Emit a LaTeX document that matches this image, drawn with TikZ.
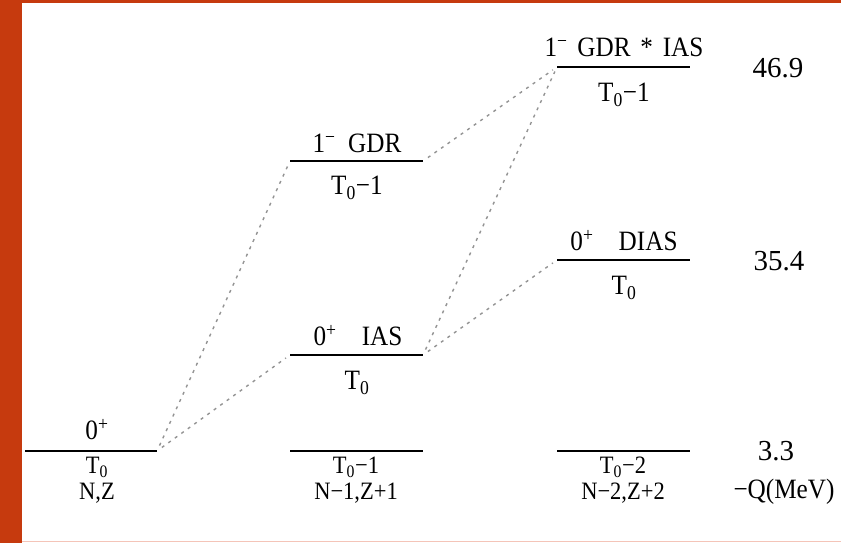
\documentclass[tikz,border=0pt]{standalone}
\usepackage{fontspec}
\setmainfont{Liberation Serif}
\newfontfamily\narrowserif[FakeStretch=0.9]{Liberation Serif}
\usetikzlibrary{arrows}
\definecolor{slidebar}{RGB}{198,58,14}
\definecolor{slideline}{RGB}{244,196,184}
\newcommand{\Tzero}{T\textsubscript{0}}
\tikzstyle{level} = [line width=2.6pt, black]
\tikzstyle{trans} = [gray!85, line width=1.4pt, dash pattern=on 3pt off 5pt, shorten >=5pt, shorten <=6pt]
\tikzstyle{lab} = [inner sep=0pt, font=\narrowserif\fontsize{28}{22}\selectfont]
\tikzstyle{nuc} = [inner sep=0pt, align=center, anchor=north, font=\narrowserif\fontsize{25}{26}\selectfont]
\tikzstyle{qval} = [inner sep=0pt, font=\fontsize{29}{29}\selectfont]

\begin{document}
\begin{tikzpicture}[x=1pt,y=-1pt]
    \useasboundingbox (0,0) rectangle (841,543);
    \fill[slidebar] (0,0) rectangle (22,543);
    \fill[slidebar] (22,0) rectangle (841,3);
    \draw[slideline] (22,541.5) -- (841,541.5);
    % levels: name/left/right/height
    \foreach \n/\xa/\xb/\y in {gs/25/157/451, da/290/423/451, ias/290/423/355,
        gdr/290/423/161, db/557/690/451, dias/557/690/260, gdrias/557/690/67}{
        \coordinate (\n l) at (\xa,\y);
        \coordinate (\n r) at (\xb,\y);
        \draw[level] (\n l) -- (\n r);
    }
    % transitions
    \foreach \a/\b in {gsr/gdrl, gsr/iasl, gdrr/gdriasl, iasr/gdriasl, iasr/diasl}{
        \draw[trans] (\a) -- (\b);
    }
    % parent N,Z
    \node[lab] (gsspin) at (97,430) {0\textsuperscript{+}};
    \node[nuc] (gsnuc) at (97,457) {\Tzero\\N,Z};
    % N-1,Z+1
    \node[nuc] (danuc) at (356,457) {\Tzero−1\\N−1,Z+1};
    \node[lab] (iasspin) at (358,336) {0\textsuperscript{+}\hspace{0.9em}IAS};
    \node[lab] (iasiso) at (357,383) {\Tzero};
    \node[lab] (gdrspin) at (357,143) {1\textsuperscript{−}\hspace{0.45em}GDR};
    \node[lab] (gdriso) at (357,188) {\Tzero−1};
    % N-2,Z+2
    \node[nuc] (dbnuc) at (623,457) {\Tzero−2\\N−2,Z+2};
    \node[lab] (diasspin) at (624,241) {0\textsuperscript{+}\hspace{0.9em}DIAS};
    \node[lab] (diasiso) at (624,288) {\Tzero};
    \node[lab] (gdriasspin) at (624,47) {1\textsuperscript{−}\hspace{0.35em}GDR\hspace{0.35em}*\hspace{0.35em}IAS};
    \node[lab] (gdriasiso) at (624,95) {\Tzero−1};
    % -Q values
    \node[qval] (qa) at (778,68) {46.9};
    \node[qval] (qb) at (779,261) {35.4};
    \node[qval] (qc) at (776,451) {3.3};
    \node[lab] (qunit) at (784,492) {−Q(MeV)};
\end{tikzpicture}
\end{document}
